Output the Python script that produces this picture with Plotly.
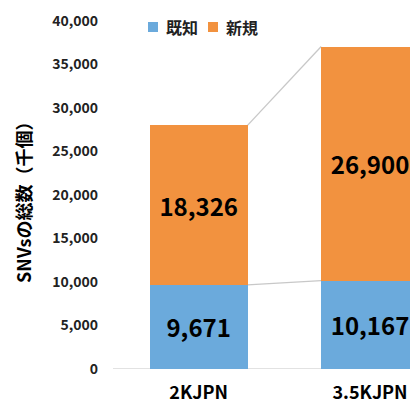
import plotly.graph_objects as go

categories = ["2KJPN", "3.5KJPN"]
known = [9671, 10167]
novel = [18326, 26900]
series_names = ["既知", "新規"]
y_ticks = [0, 5000, 10000, 15000, 20000, 25000, 30000, 35000, 40000]

BLUE = "#6BAADC"
ORANGE = "#F2923F"
FONT = "Noto Sans CJK JP"
xpos = list(range(len(categories)))
W = 0.57
colors = [BLUE, ORANGE]

fig = go.Figure()
for vals, name, col in zip([known, novel], series_names, colors):
    fig.add_trace(go.Bar(x=xpos, y=vals, name=name, marker=dict(color=col, line=dict(width=0)),
                         width=W, text=[f"{v:,}" for v in vals], textposition="inside",
                         insidetextanchor="middle", constraintext="none", cliponaxis=False,
                         textfont=dict(family=FONT, size=24, color="black", weight="bold"),
                         showlegend=False))

totals = [k + n for k, n in zip(known, novel)]
# series connector lines
for a, b in [(known[0], known[1]), (totals[0], totals[1])]:
    fig.add_shape(type="line", xref="x", yref="y", x0=xpos[0] + W / 2, x1=xpos[1] - W / 2,
                  y0=a, y1=b, line=dict(color="#C8C8C8", width=1.3), layer="below")
# baseline
fig.add_shape(type="line", xref="paper", yref="y", x0=0, x1=1, y0=0, y1=0,
              line=dict(color="#D9D9D9", width=1.3), layer="below")

# legend (manual, compact like the reference)
PW, PH = 305.0, 348.0
leg_y = (369 - 27) / PH
for i, (name, col) in enumerate(zip(series_names, colors)):
    sx = 148 + i * 60
    fig.add_shape(type="rect", xref="paper", yref="paper",
                  x0=(sx - 113) / PW, x1=(sx + 10 - 113) / PW,
                  y0=leg_y - 5 / PH, y1=leg_y + 5 / PH,
                  fillcolor=col, line=dict(width=0))
    fig.add_annotation(text=name, xref="paper", yref="paper", x=(sx + 16 - 113) / PW, y=leg_y,
                       xanchor="left", yanchor="middle", showarrow=False,
                       font=dict(family=FONT, size=16, color="#222", weight="bold"))

fig.add_annotation(text="SNVsの総数（千個）", xref="paper", yref="paper",
                   x=(23 - 113) / PW, y=(369 - 198) / PH, xanchor="center", yanchor="middle",
                   textangle=-90, showarrow=False,
                   font=dict(family=FONT, size=18, color="black", weight="bold"))

fig.update_layout(
    width=410, height=398,
    margin=dict(l=105, r=0, t=13, b=37, autoexpand=False),
    paper_bgcolor="white", plot_bgcolor="white",
    barmode="stack",
    showlegend=False,
    xaxis=dict(range=[-0.5, 1.28], tickvals=xpos, ticktext=categories, showgrid=False,
               zeroline=False, showline=False, ticks="", automargin=False,
               tickfont=dict(family=FONT, size=18, color="black", weight="bold"), ticklabelstandoff=11),
    yaxis=dict(range=[0, 40000], tickvals=y_ticks, ticktext=[f"{v:,}" for v in y_ticks],
               showgrid=False, zeroline=False, showline=False, ticks="", automargin=False,
               tickfont=dict(family=FONT, size=14, color="#222", weight="bold"), ticklabelstandoff=14),
)

fig.write_html("out.html")
